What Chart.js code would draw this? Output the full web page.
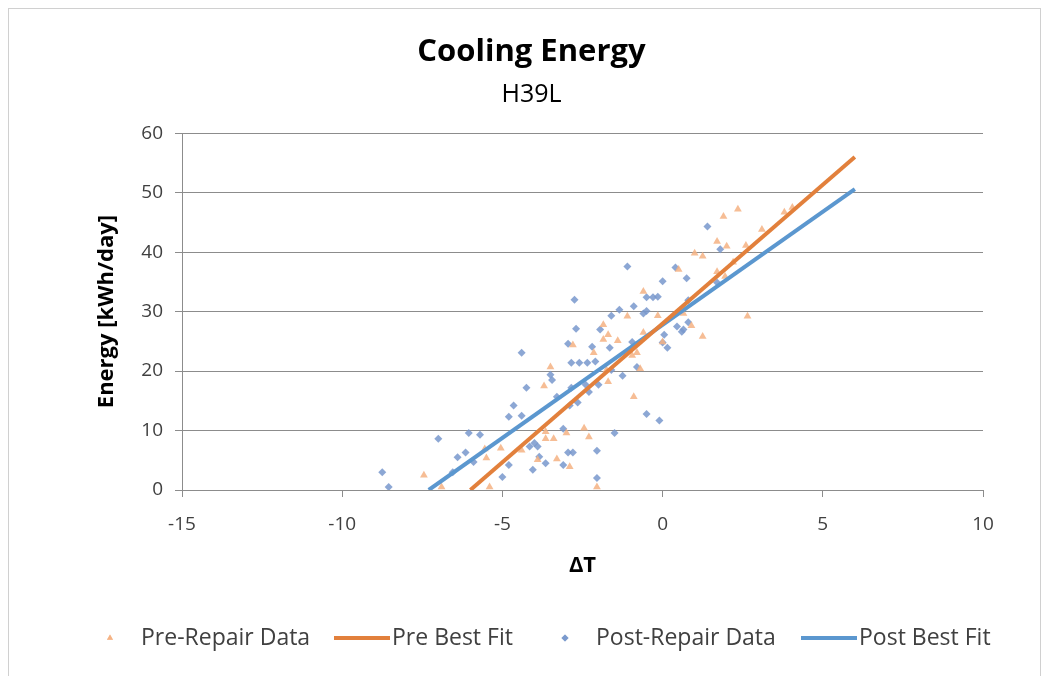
<!DOCTYPE html>
<html>
<head>
<meta charset="utf-8">
<title>Cooling Energy</title>
<script src="https://cdn.jsdelivr.net/npm/chart.js@4.4.1/dist/chart.umd.min.js"></script>
<style>
  html, body { margin: 0; padding: 0; background: #fff; }
</style>
</head>
<body>
<canvas id="chart" width="1049" height="676"></canvas>
<script>
// --- data ---
const preX = [-7.45, -6.9, -5.5, -5.4, -5.55, -5.05, -4.4, -3.65, -3.65, -3.4, -3.0, -2.45, -2.3, -3.9, -3.3, -2.9, -2.05,
  -2.8, -3.5, -3.7, -1.1, -1.85, -1.7, -1.85, -1.4, -2.15, -0.6, -0.15, 0.65, 0.9, 1.25, -0.95, -0.8, -0.7, -1.75, -1.7,
  -0.9, 0.0, 2.35, 1.9, 1.7, 2.0, 1.0, 1.25, 2.6, 3.1, 4.05, 3.8, 2.2, 1.95, 1.7, 0.5, -0.6, 2.65];
const preY = [2.5, 0.5, 5.4, 0.5, 6.9, 7.0, 6.7, 9.8, 8.6, 8.6, 9.6, 10.4, 8.9, 5.1, 5.2, 3.9, 0.5,
  24.4, 20.7, 17.5, 29.2, 27.8, 26.1, 25.3, 25.1, 23.1, 26.5, 29.3, 29.7, 27.6, 25.8, 22.6, 23.1, 20.4, 20.2, 18.2,
  15.7, 24.9, 47.2, 46.0, 41.8, 41.0, 39.8, 39.3, 41.1, 43.8, 47.5, 46.7, 38.3, 35.9, 36.7, 37.1, 33.4, 29.2];

const postX = [-8.75, -8.55, -7.0, -6.05, -5.7, -6.4, -6.15, -5.9, -6.55, -5.0, -4.8, -4.65, -4.8, -4.4, -4.15, -4.05,
  -4.4, -4.25, -3.5, -3.45, -3.3, -3.9, -3.85, -3.65, -2.65, -2.9, -3.1, -2.95, -2.8, -2.05, -3.1, -4.0, -2.05, -1.5,
  -0.5, -0.1, -2.75, -2.7, -2.95, -2.85, -2.6, -2.35, -0.9, -1.35, -1.6, -0.6, -1.95, -2.2, -1.65, -0.95, 0.05, 0.0,
  0.15, 0.45, 0.6, 0.8, -2.1, -1.6, -0.8, -1.25, -2.0, -2.3, -1.1, 0.0, 0.4, 0.75, -0.5, -0.3, -0.15, -0.5, -2.85,
  -2.4, 1.4, 1.8, 1.7, 0.8, 0.65];
const postY = [3.0, 0.5, 8.6, 9.6, 9.3, 5.5, 6.3, 4.7, 3.0, 2.2, 4.2, 14.2, 12.3, 12.5, 7.3, 3.4,
  23.1, 17.2, 19.4, 18.5, 15.7, 7.3, 5.6, 4.5, 14.7, 14.2, 10.3, 6.3, 6.3, 6.6, 4.2, 7.9, 2.0, 9.6,
  12.8, 11.7, 32.0, 27.1, 24.6, 21.4, 21.4, 21.4, 30.9, 30.3, 29.3, 29.7, 27.0, 24.1, 23.9, 24.9, 26.1, 24.8,
  23.9, 27.5, 26.6, 28.2, 21.6, 20.2, 20.7, 19.2, 17.7, 16.5, 37.6, 35.1, 37.4, 35.6, 32.4, 32.4, 32.5, 30.1, 17.2,
  17.7, 44.3, 40.5, 34.9, 31.9, 27.0];

// best fit lines: end points
const preFitX = [-6.0, 6.0];
const preFitY = [0, 56.0];
const postFitX = [-7.3, 6.0];
const postFitY = [0, 50.6];

const xTicks = [-15, -10, -5, 0, 5, 10];
const yTicks = [0, 10, 20, 30, 40, 50, 60];

const toPoints = (xs, ys) => xs.map((x, i) => ({ x: x, y: ys[i] }));

const FONT = "'Open Sans', 'DejaVu Sans', sans-serif";
const TEXT = '#404040';

// thin frame round the whole chart, like the spreadsheet chart box
const framePlugin = {
  id: 'frame',
  beforeDraw(chart) {
    const c = chart.ctx;
    c.save();
    c.fillStyle = '#fff';
    c.fillRect(0, 0, chart.width, chart.height);
    c.strokeStyle = '#d0d0d0';
    c.lineWidth = 1;
    c.strokeRect(8.5, 8.5, 1032, 700);
    c.restore();
  }
};

// legend in one row along the bottom, laid out like the spreadsheet one
// (marker x, text x) for each dataset
const legendSlots = [[110, 141], [334, 392], [565, 596], [801, 859]];
const legendPlugin = {
  id: 'rowLegend',
  afterDraw(chart) {
    const c = chart.ctx;
    const y = 638;
    c.save();
    c.font = '23px ' + FONT;
    c.textBaseline = 'middle';
    chart.data.datasets.forEach((ds, i) => {
      const [mx, tx] = legendSlots[i];
      if (ds.pointStyle === 'line') {
        c.strokeStyle = ds.borderColor;
        c.lineWidth = ds.borderWidth;
        c.beginPath();
        c.moveTo(mx, y);
        c.lineTo(tx - 2, y);
        c.stroke();
      } else {
        c.fillStyle = ds.backgroundColor;
        Chart.helpers.drawPoint(c, { pointStyle: ds.pointStyle, radius: 3.5, rotation: 0, borderWidth: 0 }, mx, y);
        c.fill();
      }
      c.fillStyle = TEXT;
      c.textAlign = 'left';
      c.fillText(ds.label, tx, y);
    });
    c.restore();
  }
};

const ctx = document.getElementById('chart').getContext('2d');
new Chart(ctx, {
  type: 'scatter',
  data: {
    datasets: [
      {
        label: 'Pre-Repair Data',
        data: toPoints(preX, preY),
        pointStyle: 'triangle',
        pointRadius: 4.5,
        backgroundColor: 'rgba(244,177,131,0.85)',
        borderColor: 'rgba(244,177,131,0.85)',
        borderWidth: 0,
        order: 2
      },
      {
        label: 'Pre Best Fit',
        type: 'line',
        data: toPoints(preFitX, preFitY),
        showLine: true,
        borderColor: '#E2803C',
        backgroundColor: '#E2803C',
        borderWidth: 4,
        pointRadius: 0,
        pointStyle: 'line',
        fill: false,
        order: 1
      },
      {
        label: 'Post-Repair Data',
        data: toPoints(postX, postY),
        pointStyle: 'rectRot',
        pointRadius: 4,
        backgroundColor: 'rgba(120,152,204,0.85)',
        borderColor: 'rgba(120,152,204,0.85)',
        borderWidth: 0,
        order: 2
      },
      {
        label: 'Post Best Fit',
        type: 'line',
        data: toPoints(postFitX, postFitY),
        showLine: true,
        borderColor: '#5B97CF',
        backgroundColor: '#5B97CF',
        borderWidth: 4,
        pointRadius: 0,
        pointStyle: 'line',
        fill: false,
        order: 1
      }
    ]
  },
  options: {
    responsive: false,
    animation: false,
    layout: {
      padding: { top: 21, left: 80, right: 66, bottom: 83 }
    },
    plugins: {
      tooltip: { enabled: false },
      legend: { display: false },
      title: {
        display: true,
        text: 'Cooling Energy',
        color: '#000',
        font: { family: FONT, size: 31, weight: 'bold', lineHeight: 1.2 },
        padding: { top: 13, bottom: 5 }
      },
      subtitle: {
        display: true,
        text: 'H39L',
        color: '#000',
        font: { family: FONT, size: 25, lineHeight: 1.2 },
        padding: { top: 4, bottom: 23 }
      }
    },
    scales: {
      x: {
        type: 'linear',
        min: -15,
        max: 10,
        afterBuildTicks: (scale) => { scale.ticks = xTicks.map(v => ({ value: v })); },
        afterFit: (scale) => { scale.height = 103; },
        ticks: { color: TEXT, font: { family: FONT, size: 19 }, padding: 16 },
        grid: { display: true, drawOnChartArea: false, drawTicks: true, tickLength: 7, color: '#8c8c8c' },
        border: { display: true, color: '#8c8c8c', width: 1 },
        title: {
          display: true,
          text: 'ΔT',
          color: '#000',
          font: { family: FONT, size: 22, weight: 'bold' },
          padding: { top: 8, bottom: 14 }
        }
      },
      y: {
        type: 'linear',
        min: 0,
        max: 60,
        afterBuildTicks: (scale) => { scale.ticks = yTicks.map(v => ({ value: v })); },
        afterFit: (scale) => { scale.width = 102; },
        ticks: { color: TEXT, font: { family: FONT, size: 19 }, padding: 12 },
        grid: { color: '#8c8c8c', lineWidth: 1, tickLength: 7 },
        border: { display: true, color: '#8c8c8c', width: 1 },
        title: {
          display: true,
          text: 'Energy [kWh/day]',
          color: '#000',
          font: { family: FONT, size: 22, weight: 'bold' },
          padding: { top: 14, bottom: 0 }
        }
      }
    }
  },
  plugins: [framePlugin, legendPlugin]
});
</script>
</body>
</html>
